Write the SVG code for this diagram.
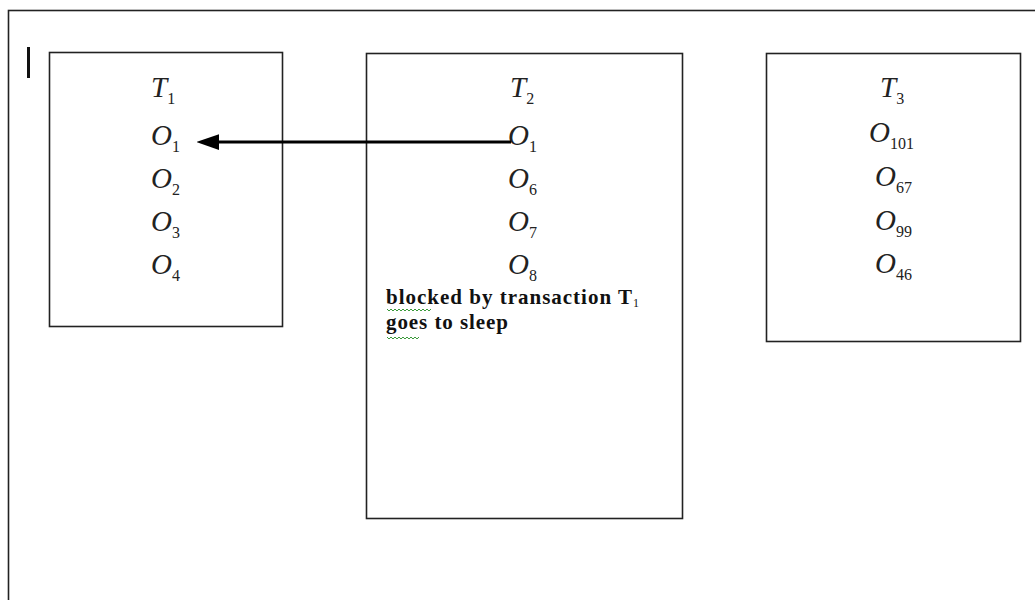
<svg xmlns="http://www.w3.org/2000/svg" width="1035" height="600" viewBox="0 0 1035 600">
  <style>
    .frame { fill: none; stroke: #222; stroke-width: 1.6; }
    .box { fill: #fff; stroke: #222; stroke-width: 1.6; }
    .m { font-family: "Liberation Serif", "Times New Roman", serif; font-style: italic; font-size: 29px; fill: #222; }
    .s { font-style: normal; font-size: 16px; }
    .note { font-family: "Liberation Serif", "Times New Roman", serif; font-weight: bold; font-size: 21px; fill: #111; }
    .sq { fill: none; stroke: #3a9a3a; stroke-width: 1; }
  </style>
  <defs>
    <marker id="ah" viewBox="0 0 10 7" refX="0" refY="3.5" markerWidth="7.5" markerHeight="5.25" orient="auto" markerUnits="strokeWidth">
      <path d="M0,0 L10,3.5 L0,7 Z" fill="#000"/>
    </marker>
  </defs>
  <rect width="1035" height="600" fill="#fff"/>
  <rect class="frame" x="8.5" y="10.5" width="1100" height="700"/>
  <line x1="28.5" y1="47" x2="28.5" y2="78" stroke="#111" stroke-width="3"/>

  <g id="T1">
    <rect class="box" x="49.5" y="52.5" width="233" height="274"/>
    <text class="m" x="151" y="97">T<tspan class="s" dy="7">1</tspan></text>
    <text class="m" x="151" y="145">O<tspan class="s" dy="7">1</tspan></text>
    <text class="m" x="151" y="188">O<tspan class="s" dy="7">2</tspan></text>
    <text class="m" x="151" y="231">O<tspan class="s" dy="7">3</tspan></text>
    <text class="m" x="151" y="274">O<tspan class="s" dy="7">4</tspan></text>
  </g>

  <g id="T2">
    <rect class="box" x="366.5" y="53.5" width="316" height="465"/>
    <text class="m" x="510" y="97">T<tspan class="s" dy="7">2</tspan></text>
    <text class="m" x="508" y="145">O<tspan class="s" dy="7">1</tspan></text>
    <text class="m" x="508" y="188">O<tspan class="s" dy="7">6</tspan></text>
    <text class="m" x="508" y="231">O<tspan class="s" dy="7">7</tspan></text>
    <text class="m" x="508" y="274">O<tspan class="s" dy="7">8</tspan></text>
    <text class="note" x="386" y="304"><tspan textLength="246" lengthAdjust="spacing">blocked by transaction T</tspan><tspan font-size="12" font-weight="normal" dy="3">1</tspan></text>
    <text class="note" x="386" y="329" textLength="122" lengthAdjust="spacing">goes to sleep</text>
    <path class="sq" d="M387,309 l2,2 l2,-2 l2,2 l2,-2 l2,2 l2,-2 l2,2 l2,-2 l2,2 l2,-2 l2,2 l2,-2 l2,2 l2,-2 l2,2 l2,-2 l2,2 l2,-2 l2,2 l2,-2 l2,2 l2,-2"/>
    <path class="sq" d="M387,337 l2,2 l2,-2 l2,2 l2,-2 l2,2 l2,-2 l2,2 l2,-2 l2,2 l2,-2 l2,2 l2,-2 l2,2 l2,-2 l2,2 l2,-2"/>
  </g>

  <g id="T3">
    <rect class="box" x="766.5" y="53.5" width="254" height="288"/>
    <text class="m" x="880" y="97">T<tspan class="s" dy="7">3</tspan></text>
    <text class="m" x="869" y="142">O<tspan class="s" dy="7">101</tspan></text>
    <text class="m" x="875" y="186">O<tspan class="s" dy="7">67</tspan></text>
    <text class="m" x="875" y="230">O<tspan class="s" dy="7">99</tspan></text>
    <text class="m" x="875" y="273">O<tspan class="s" dy="7">46</tspan></text>
  </g>

  <g id="connectors">
    <line x1="511" y1="142" x2="219" y2="142" stroke="#000" stroke-width="3" marker-end="url(#ah)"/>
  </g>
</svg>
